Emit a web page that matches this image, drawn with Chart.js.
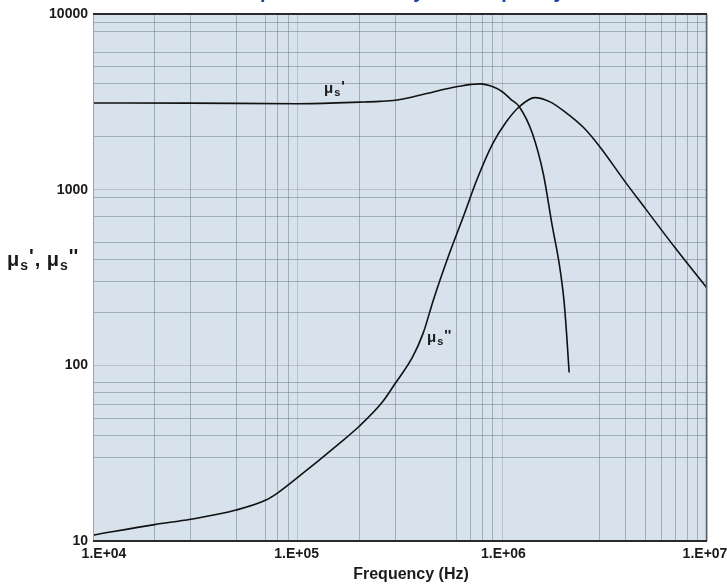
<!DOCTYPE html>
<html><head><meta charset="utf-8">
<script src="https://cdn.jsdelivr.net/npm/chart.js@4"></script>
<style>html,body{margin:0;padding:0;background:#fff;}#wrap{width:727px;height:585px;}</style>
</head><body><div id="wrap"><canvas id="c" width="727" height="585"></canvas></div>
<script>
// Real part (mu_s')
const freqReal = [1e4, 3e4, 1e5, 2e5, 2.5e5, 3e5, 3.8e5, 4.6e5, 5.5e5, 6.5e5, 7.8e5, 9e5, 1.0e6, 1.1e6, 1.21e6, 1.4e6, 1.59e6, 1.75e6, 1.9e6, 2.0e6, 2.06e6, 2.12e6];
const muReal   = [3115, 3110, 3085, 3150, 3180, 3230, 3410, 3600, 3780, 3920, 4000, 3850, 3610, 3270, 2965, 2100, 1212, 630, 373, 235, 152, 91];
// Imaginary part (mu_s'')
const freqImag = [1e4, 2e4, 3e4, 5e4, 7e4, 8e4, 1e5, 1.6e5, 2.0e5, 2.6e5, 3.0e5, 3.65e5, 4.1e5, 4.6e5, 5.5e5, 6.5e5, 7.5e5, 9e5, 1.05e6, 1.21e6, 1.44e6, 1.71e6, 2.0e6, 2.5e6, 3e6, 4e6, 5e6, 7e6, 1e7];
const muImag   = [10.8, 12.4, 13.3, 15.0, 17.1, 18.8, 23, 36, 45, 62, 79, 112, 152, 235, 430, 720, 1135, 1840, 2450, 2965, 3340, 3160, 2800, 2250, 1750, 1100, 780, 465, 275];

const xMajor = [1e4, 1e5, 1e6, 1e7];
const xMinor = [2e4, 3e4, 5e4, 7e4, 8e4, 9e4, 2e5, 3e5, 6e5, 7e5, 8e5, 9e5, 3e6, 4e6, 5e6, 6e6, 7e6, 8e6, 9e6];
const xTickLabels = ['1.E+04', '1.E+05', '1.E+06', '1.E+07'];
const yMajor = [10, 100, 1000, 10000];
const yMinor = [30, 40, 50, 60, 70, 80, 200, 300, 400, 500, 700, 900, 2000, 4000, 5000, 6000, 8000, 9000];
const yTickLabels = ['10', '100', '1000', '10000'];

const titleText = 'Complex Permeability vs. Frequency';
const xTitle = 'Frequency (Hz)';

const FONT = '"Liberation Sans", Arial, Helvetica, sans-serif';

function toPts(xs, ys) { return xs.map((x, i) => ({x: x, y: ys[i]})); }
function labelFor(majors, labels, v) {
  for (let i = 0; i < majors.length; i++) {
    if (Math.abs(Math.log10(v) - Math.log10(majors[i])) < 1e-6) return labels[i];
  }
  return '';
}
function isMajor(majors, v) { return labelFor(majors, majors.map(() => 'y'), v) !== ''; }

const bgPlugin = {
  id: 'bg',
  beforeDraw(chart) {
    const {ctx, chartArea: a} = chart;
    ctx.save();
    ctx.fillStyle = '#fff';
    ctx.fillRect(0, 0, chart.width, chart.height);
    ctx.fillStyle = '#d7e2ed';
    ctx.fillRect(a.left, a.top, a.right - a.left, a.bottom - a.top);
    ctx.restore();
  }
};

function drawMu(ctx, x, y, size, primes) {
  ctx.font = 'bold ' + size + 'px ' + FONT;
  ctx.textAlign = 'left';
  ctx.textBaseline = 'alphabetic';
  ctx.fillText('\u03bc', x, y);
  const w = ctx.measureText('\u03bc').width;
  const ss = Math.round(size * 0.72);
  ctx.font = 'bold ' + ss + 'px ' + FONT;
  ctx.fillText('s', x + w + 1, y + size * 0.2);
  const w2 = ctx.measureText('s').width;
  ctx.font = 'bold ' + size + 'px ' + FONT;
  ctx.fillText(primes, x + w + w2 + 2, y - size * 0.15);
  return x + w + w2 + 2 + ctx.measureText(primes).width;
}

const decoPlugin = {
  id: 'deco',
  afterDraw(chart) {
    const {ctx, chartArea: a} = chart;
    const xs = chart.scales.x;
    ctx.save();
    // borders
    ctx.strokeStyle = '#9aa3ad'; ctx.lineWidth = 1;
    ctx.beginPath(); ctx.moveTo(a.left + 0.5, a.top); ctx.lineTo(a.left + 0.5, a.bottom); ctx.stroke();
    ctx.strokeStyle = '#5a5f66'; ctx.lineWidth = 1.5;
    ctx.beginPath(); ctx.moveTo(a.right - 0.5, a.top); ctx.lineTo(a.right - 0.5, a.bottom); ctx.stroke();
    ctx.strokeStyle = '#2a2a2a'; ctx.lineWidth = 2;
    ctx.beginPath(); ctx.moveTo(a.left, a.top); ctx.lineTo(a.right, a.top); ctx.stroke();
    ctx.beginPath(); ctx.moveTo(a.left, a.bottom); ctx.lineTo(a.right, a.bottom); ctx.stroke();

    // x tick labels (placed from the scale)
    const nudge = [11, -1, 1, -2];
    ctx.fillStyle = '#1a1a1a';
    ctx.font = 'bold 14px ' + FONT;
    ctx.textAlign = 'center';
    ctx.textBaseline = 'middle';
    xMajor.forEach((v, i) => {
      ctx.fillText(xTickLabels[i], xs.getPixelForValue(v) + nudge[i], a.bottom + 13);
    });

    // title (mostly above the visible page)
    ctx.fillStyle = '#1f3fa6';
    ctx.font = 'bold 20px ' + FONT;
    ctx.textAlign = 'center';
    ctx.textBaseline = 'alphabetic';
    ctx.fillText(titleText, 390, -2);

    // x axis title
    ctx.fillStyle = '#1a1a1a';
    ctx.font = 'bold 16px ' + FONT;
    ctx.textAlign = 'center';
    ctx.textBaseline = 'middle';
    ctx.fillText(xTitle, 411, 575);

    // y axis title
    ctx.fillStyle = '#1a1a1a';
    let xe = drawMu(ctx, 7, 266, 20, "'");
    ctx.font = 'bold 20px ' + FONT;
    ctx.textAlign = 'left';
    ctx.fillText(',', xe + 1, 266);
    drawMu(ctx, xe + 13, 266, 20, "''");

    // curve labels
    drawMu(ctx, 324, 93, 15, "'");
    drawMu(ctx, 427, 342, 15, "''");
    ctx.restore();
  }
};

new Chart(document.getElementById('c'), {
  type: 'line',
  data: {
    datasets: [
      { label: "mu_s'", data: toPts(freqReal, muReal), borderColor: '#111', borderWidth: 1.6,
        pointRadius: 0, tension: 0.4, cubicInterpolationMode: 'monotone', fill: false },
      { label: "mu_s''", data: toPts(freqImag, muImag), borderColor: '#111', borderWidth: 1.6,
        pointRadius: 0, tension: 0.4, cubicInterpolationMode: 'monotone', fill: false }
    ]
  },
  options: {
    responsive: false,
    animation: false,
    devicePixelRatio: 1,
    parsing: true,
    layout: { padding: { left: 0, right: 20, top: 14, bottom: 0 } },
    plugins: { legend: { display: false }, tooltip: { enabled: false }, title: { display: false } },
    scales: {
      x: {
        type: 'logarithmic', min: 1e4, max: 1e7,
        afterBuildTicks(scale) {
          scale.ticks = xMajor.concat(xMinor).sort((a, b) => a - b).map(v => ({value: v}));
        },
        afterFit(scale) { scale.height = 44; scale.paddingLeft = 0; scale.paddingRight = 0; },
        ticks: { display: false, autoSkip: false, maxRotation: 0 },
        grid: {
          drawTicks: false,
          color: ctx => (ctx.tick && isMajor(xMajor, ctx.tick.value)) ? 'rgba(110,120,135,0.3)' : 'rgba(110,120,135,0.5)',
          lineWidth: 1
        },
        border: { display: false }
      },
      y: {
        type: 'logarithmic', min: 10, max: 10000,
        afterBuildTicks(scale) {
          scale.ticks = yMajor.concat(yMinor).sort((a, b) => a - b).map(v => ({value: v}));
        },
        afterFit(scale) { scale.width = 93; scale.paddingTop = 0; scale.paddingBottom = 0; },
        ticks: {
          autoSkip: false, padding: 5, color: '#1a1a1a',
          font: { family: FONT, size: 14, weight: 'bold' },
          callback: (v, i, t) => labelFor(yMajor, yTickLabels, t[i].value)
        },
        grid: {
          drawTicks: false,
          color: ctx => (ctx.tick && isMajor(yMajor, ctx.tick.value)) ? 'rgba(110,120,135,0.3)' : 'rgba(110,120,135,0.5)',
          lineWidth: 1
        },
        border: { display: false }
      }
    }
  },
  plugins: [bgPlugin, decoPlugin]
});
</script>
</body></html>
